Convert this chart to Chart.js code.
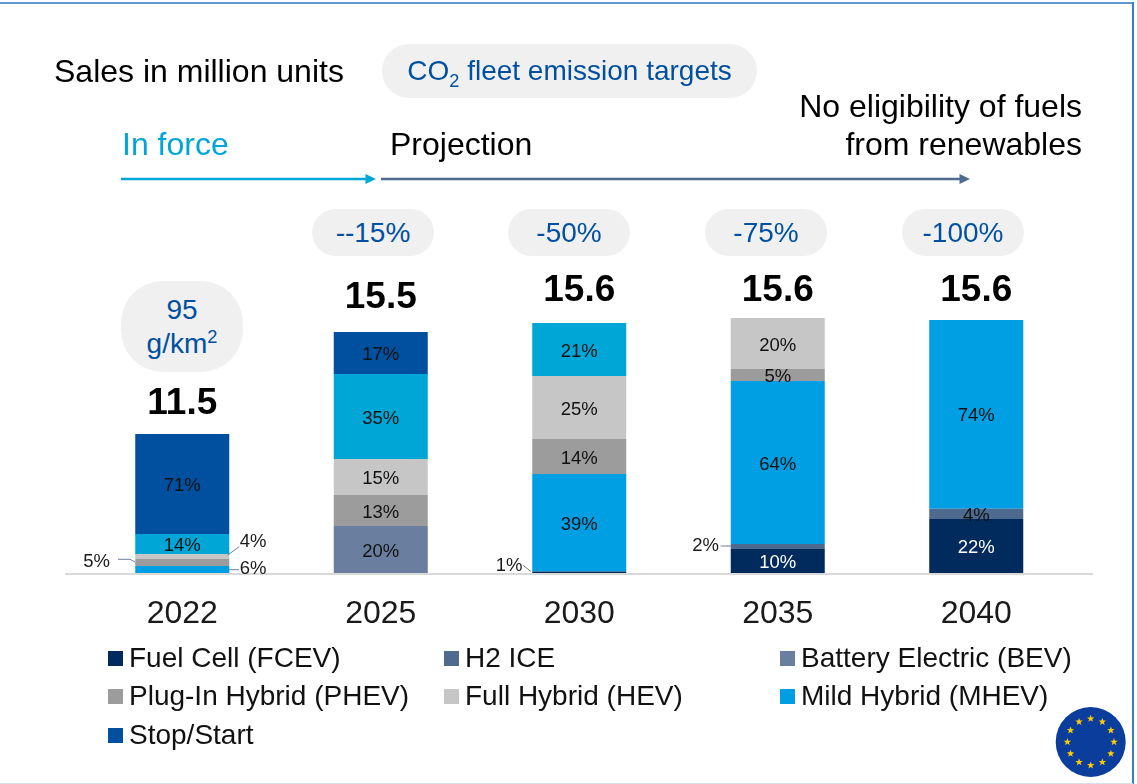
<!DOCTYPE html>
<html>
<head>
<meta charset="utf-8">
<script src="https://cdn.jsdelivr.net/npm/chart.js@4"></script>
<style>
html,body{margin:0;padding:0;background:#fff;overflow:hidden}
#stage{position:relative;width:1137px;height:784px;font-family:"Liberation Sans",Arial,sans-serif;color:#000}
canvas{position:absolute;left:0;top:0}
.t{position:absolute;white-space:nowrap;line-height:1}
.pill{position:absolute;background:#F0F0F0;color:#00509F;text-align:center;display:flex;align-items:center;justify-content:center;box-sizing:border-box}
.sw{position:absolute;width:15px;height:15px}
.bt{position:absolute;left:0;top:2px;width:1133px;height:1.5px;background:#5F97CF}
.br{position:absolute;left:1132px;top:2px;width:1.5px;height:782px;background:#3E7DBD}
.bb{position:absolute;left:0;top:783px;width:1133px;height:1px;background:#D5E0E8}
sub,sup{font-size:.65em;line-height:0}
</style>
</head>
<body>
<div id="stage">
<canvas id="c" width="1137" height="784"></canvas>
<div class="bt"></div><div class="br"></div><div class="bb"></div>
</div>
<script>
const years = ["2022","2025","2030","2035","2040"];
const totals = ["11.5","15.5","15.6","15.6","15.6"];
const targets = ["95\ng/km²","--15%","-50%","-75%","-100%"];

const fuelCell = [0,0,0.09,1.5,3.38];
const h2Ice = [0,0,0,0.31,0.63];
const batteryElectric = [0,2.94,0,0,0];
const mildHybridLower = [0.44,0,6.09,10.19,11.81];
const plugInHybrid = [0.44,1.94,2.19,0.75,0];
const fullHybrid = [0.31,2.25,3.94,3.19,0];
const mildHybridUpper = [1.25,5.31,3.31,0,0];
const stopStart = [6.25,2.63,0,0,0];

const fuelCellShare = [null,null,"1%","10%","22%"];
const h2IceShare = [null,null,null,"2%","4%"];
const batteryElectricShare = [null,"20%",null,null,null];
const mildHybridLowerShare = ["6%",null,"39%","64%","74%"];
const plugInHybridShare = ["5%","13%","14%","5%",null];
const fullHybridShare = ["4%","15%","25%","20%",null];
const mildHybridUpperShare = ["14%","35%","21%",null,null];
const stopStartShare = ["71%","17%",null,null,null];

const FONT = '"Liberation Sans",Arial,sans-serif';
const datasets = [
  {label:"Fuel Cell (FCEV)",data:fuelCell,shares:fuelCellShare,backgroundColor:"#002B5C",labelColor:"#fff"},
  {label:"H2 ICE",data:h2Ice,shares:h2IceShare,backgroundColor:"#4F6A8F"},
  {label:"Battery Electric (BEV)",data:batteryElectric,shares:batteryElectricShare,backgroundColor:"#6A7F9F"},
  {label:"Mild Hybrid (MHEV)",data:mildHybridLower,shares:mildHybridLowerShare,backgroundColor:"#009FE3"},
  {label:"Plug-In Hybrid (PHEV)",data:plugInHybrid,shares:plugInHybridShare,backgroundColor:"#9C9C9C"},
  {label:"Full Hybrid (HEV)",data:fullHybrid,shares:fullHybridShare,backgroundColor:"#C6C6C6"},
  {label:"Mild Hybrid (MHEV), upper",data:mildHybridUpper,shares:mildHybridUpperShare,backgroundColor:"#00A6D6"},
  {label:"Stop/Start",data:stopStart,shares:stopStartShare,backgroundColor:"#00509F"}
];
datasets.forEach(d=>{d.stack="s";d.borderWidth=0;});

/* leader-line callouts: [dataset, year index, label centre, polyline] */
const callouts = [
  {ds:3,i:0,lx:253,ly:569,line:[[229,569.7],[239,569.7]]},
  {ds:4,i:0,lx:96.5,ly:562,line:[[118,559.3],[130,559.3],[135,562]]},
  {ds:5,i:0,lx:253,ly:542,line:[[227.7,555],[239.3,546.7]]},
  {ds:0,i:2,lx:509,ly:566,line:[[522.7,565],[530.7,571.3]]},
  {ds:1,i:3,lx:705.5,ly:546,line:[[720.7,546],[731,546]]}
];
const totalOffsets = [30,34,32,27,29];

const overlay = {
  id:"overlay",
  afterDatasetsDraw(chart){
    const ctx = chart.ctx;
    ctx.save();
    const base = chart.scales.y.getPixelForValue(0);
    // axis line
    ctx.fillStyle="#D9D9D9";
    ctx.fillRect(65,base,1028,2);
    // segment labels
    ctx.textAlign="center";ctx.textBaseline="middle";
    chart.data.datasets.forEach((d,di)=>{
      const meta=chart.getDatasetMeta(di);
      d.shares.forEach((s,i)=>{
        if(!s) return;
        const c=callouts.find(k=>k.ds===di&&k.i===i);
        const el=meta.data[i];
        ctx.font="18.5px "+FONT;
        if(c){
          ctx.fillStyle="#1a1a1a";
          ctx.fillText(s,c.lx,c.ly);
          ctx.strokeStyle="#6A7F9F";ctx.lineWidth=1;
          ctx.beginPath();
          c.line.forEach((p,n)=>n?ctx.lineTo(p[0],p[1]):ctx.moveTo(p[0],p[1]));
          ctx.stroke();
        }else{
          ctx.fillStyle=d.labelColor||"#111";
          ctx.fillText(s,el.x,(el.y+el.base)/2+2);
        }
      });
    });
    // totals
    ctx.font="bold 37px "+FONT;ctx.fillStyle="#000";
    years.forEach((y,i)=>{
      const sum=chart.data.datasets.reduce((a,d)=>a+d.data[i],0);
      const x=chart.scales.x.getPixelForValue(i);
      ctx.fillText(totals[i],x,chart.scales.y.getPixelForValue(sum)-totalOffsets[i]);
    });
    // timeline arrows
    ctx.fillStyle="#00A6D6";
    ctx.fillRect(121,177.75,246,2.5);
    ctx.beginPath();ctx.moveTo(365.5,174);ctx.lineTo(376,179);ctx.lineTo(365.5,184);ctx.closePath();ctx.fill();
    ctx.fillStyle="#4F6A8F";
    ctx.fillRect(381,177.75,580,2.5);
    ctx.beginPath();ctx.moveTo(959.5,174);ctx.lineTo(970,179);ctx.lineTo(959.5,184);ctx.closePath();ctx.fill();
    // EU flag
    const fx=1090.7,fy=742;
    ctx.fillStyle="#0B3D9C";
    ctx.beginPath();ctx.arc(fx,fy,35,0,Math.PI*2);ctx.fill();
    ctx.fillStyle="#FFCC00";
    for(let n=0;n<12;n++){
      const a=n*Math.PI/6;
      const sx=fx+23.3*Math.sin(a), sy=fy-23.3*Math.cos(a);
      ctx.beginPath();
      for(let k=0;k<10;k++){
        const r=k%2?1.6:3.9, b=k*Math.PI/5;
        const px=sx+r*Math.sin(b), py=sy-r*Math.cos(b);
        k?ctx.lineTo(px,py):ctx.moveTo(px,py);
      }
      ctx.closePath();ctx.fill();
    }
    ctx.restore();
  }
};

const chart = new Chart(document.getElementById("c"),{
  type:"bar",
  data:{labels:years,datasets},
  options:{
    responsive:false,animation:false,
    layout:{padding:{left:83,right:61.5,top:173,bottom:0}},
    plugins:{legend:{display:false},tooltip:{enabled:false}},
    datasets:{bar:{categoryPercentage:1,barPercentage:0.4736}},
    scales:{
      x:{stacked:true,grid:{display:false},border:{display:false},
         ticks:{color:"#1a1a1a",font:{family:FONT,size:32},padding:14,maxRotation:0},
         afterFit(s){s.height=211;}},
      y:{stacked:true,display:false,min:0,max:25}
    }
  },
  plugins:[overlay]
});

/* HTML annotations */
const stage=document.getElementById("stage");
function text(html,x,y,size,color,align){
  const e=document.createElement("div");e.className="t";e.innerHTML=html;
  e.style.fontSize=size+"px";e.style.color=color||"#000";e.style.top=(y-size/2)+"px";
  if(align==="right"){e.style.right=(1137-x)+"px";}else{e.style.left=x+"px";}
  stage.appendChild(e);return e;
}
function pill(html,x,y,w,h,size,r){
  const e=document.createElement("div");e.className="pill";e.innerHTML=html;
  e.style.cssText+=`left:${x}px;top:${y}px;width:${w}px;height:${h}px;font-size:${size}px;border-radius:${r}px;`;
  stage.appendChild(e);return e;
}
text("Sales in million units",54,70.5,32);
text("In force",122,144,32,"#00A6D6");
text("Projection",390,144,32);
text("No eligibility of fuels",1082,106,32,"#000","right");
text("from renewables",1082,144,32,"#000","right");
pill("<span>CO<sub>2</sub> fleet emission targets</span>",382,44,375,55,28,27.5).style.height="54px";
const pillX=[121,312,508,705,902];
targets.forEach((t,i)=>{
  if(i===0){
    const p=t.split("\n");
    pill(`<span style="line-height:34px">${p[0]}<br>g/km<sup>2</sup></span>`,pillX[i],281,122,91,28,42);
  }else pill(t,pillX[i],209,122,47,28,23.5);
});
/* legend from datasets */
const legendOrder=[0,1,2,4,5,3,7];
const legX=[108,444,780],legY=[658.5,696.5,735.5];
legendOrder.forEach((di,n)=>{
  const col=n%3,row=Math.floor(n/3),d=datasets[di];
  const s=document.createElement("div");s.className="sw";
  s.style.left=legX[col]+"px";s.style.top=(legY[row]-7.5)+"px";s.style.background=d.backgroundColor;
  stage.appendChild(s);
  text(d.label,legX[col]+21,legY[row]-1,28,"#111");
});
</script>
</body>
</html>
